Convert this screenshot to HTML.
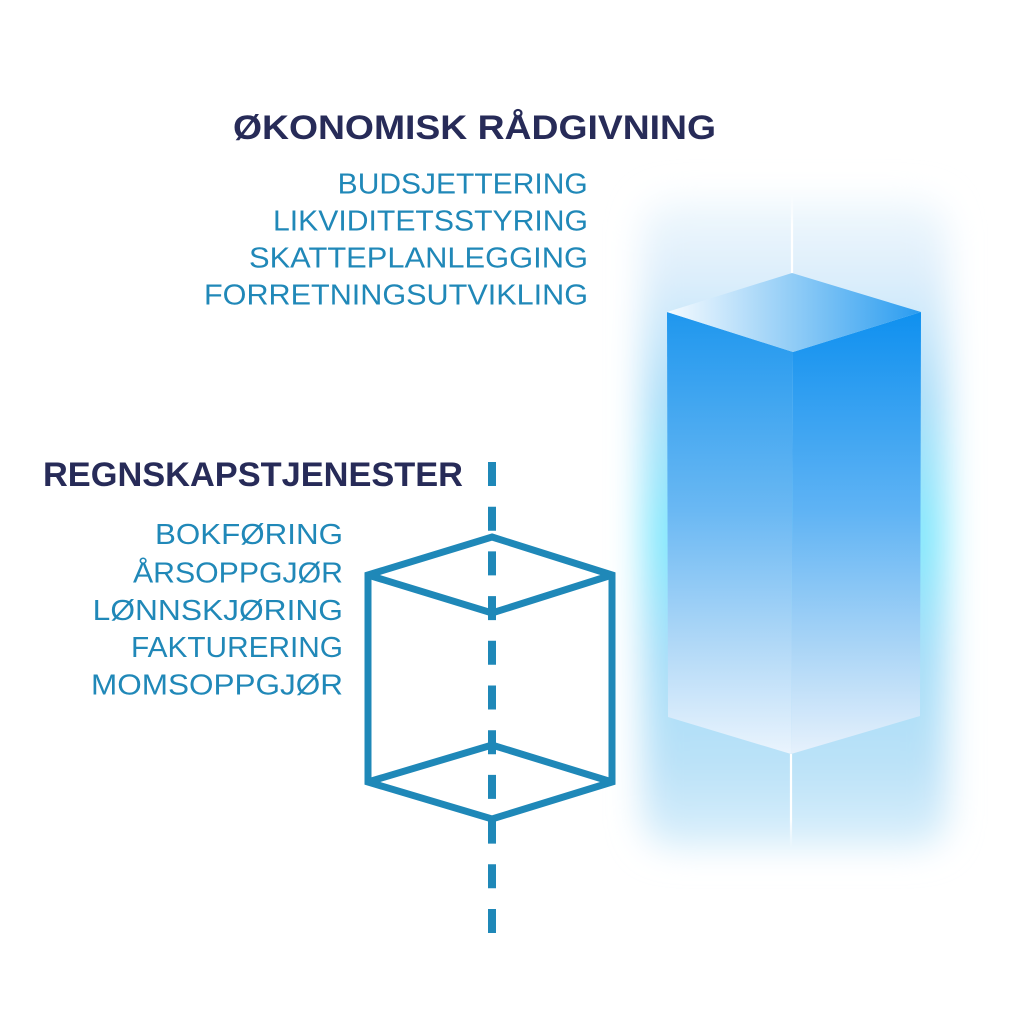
<!DOCTYPE html>
<html>
<head>
<meta charset="utf-8">
<style>
  html,body{margin:0;padding:0;background:#ffffff;}
  body{width:1011px;height:1013px;overflow:hidden;}
  svg{display:block;}
  .hd{font-family:"Liberation Sans",sans-serif;font-weight:bold;font-size:34px;fill:#272b58;}
  .it{font-family:"Liberation Sans",sans-serif;font-size:29px;fill:#2088b8;}
</style>
</head>
<body>
<svg width="1011" height="1013" viewBox="0 0 1011 1013" xmlns="http://www.w3.org/2000/svg">
  <defs>
    <filter id="blur" x="-30%" y="-30%" width="160%" height="160%">
      <feGaussianBlur stdDeviation="17"/>
    </filter>
    <linearGradient id="glowG" x1="0" y1="0" x2="0" y2="1">
      <stop offset="0" stop-color="#f0f8fd"/>
      <stop offset="0.12" stop-color="#ddeefb"/>
      <stop offset="0.3" stop-color="#addef8"/>
      <stop offset="0.52" stop-color="#84e8fd"/>
      <stop offset="0.7" stop-color="#a4ddf8"/>
      <stop offset="0.88" stop-color="#bce2f8"/>
      <stop offset="1" stop-color="#dcf0fb"/>
    </linearGradient>
    <linearGradient id="leftF" x1="0" y1="312" x2="0" y2="754" gradientUnits="userSpaceOnUse">
      <stop offset="0" stop-color="#1f97ee"/>
      <stop offset="0.45" stop-color="#6ab8f3"/>
      <stop offset="0.75" stop-color="#b0d8f7"/>
      <stop offset="1" stop-color="#eaf4fd"/>
    </linearGradient>
    <linearGradient id="rightF" x1="0" y1="312" x2="0" y2="754" gradientUnits="userSpaceOnUse">
      <stop offset="0" stop-color="#0f90ef"/>
      <stop offset="0.45" stop-color="#5fb3f4"/>
      <stop offset="0.75" stop-color="#a8d4f6"/>
      <stop offset="1" stop-color="#e6f1fc"/>
    </linearGradient>
    <linearGradient id="topF" x1="667" y1="0" x2="921" y2="0" gradientUnits="userSpaceOnUse">
      <stop offset="0" stop-color="#f6fbff"/>
      <stop offset="0.5" stop-color="#90ccf6"/>
      <stop offset="1" stop-color="#2a9cf0"/>
    </linearGradient>
    <linearGradient id="lineTop" x1="0" y1="193" x2="0" y2="273" gradientUnits="userSpaceOnUse">
      <stop offset="0" stop-color="#ffffff" stop-opacity="0"/>
      <stop offset="0.4" stop-color="#ffffff" stop-opacity="1"/>
      <stop offset="1" stop-color="#ffffff" stop-opacity="1"/>
    </linearGradient>
    <linearGradient id="lineBot" x1="0" y1="754" x2="0" y2="848" gradientUnits="userSpaceOnUse">
      <stop offset="0" stop-color="#ffffff" stop-opacity="1"/>
      <stop offset="0.7" stop-color="#ffffff" stop-opacity="1"/>
      <stop offset="1" stop-color="#ffffff" stop-opacity="0"/>
    </linearGradient>
  </defs>

  <!-- Glow -->
  <rect x="643" y="200" width="304" height="648" rx="30" fill="url(#glowG)" filter="url(#blur)"/>

  <!-- Light lines -->
  <line x1="792" y1="193" x2="792" y2="274" stroke="url(#lineTop)" stroke-width="2.2"/>
  <line x1="791" y1="754" x2="791" y2="848" stroke="url(#lineBot)" stroke-width="2.2"/>

  <!-- Solid box -->
  <polygon points="667,312 793,352 791,754 668,717" fill="url(#leftF)"/>
  <polygon points="793,352 921,312 920,716 791,754" fill="url(#rightF)"/>
  <polygon points="667,312 792,273 921,312 793,352" fill="url(#topF)"/>

  <!-- Wireframe cube -->
  <g fill="none" stroke="#1f88b8" stroke-width="7" stroke-linejoin="miter" stroke-linecap="butt">
    <path d="M492,537 L612,575 L612,782 L492,819 L368,782 L368,575 Z"/>
    <path d="M368,575 L492,613 L612,575"/>
    <path d="M368,782 L492,745 L612,782"/>
  </g>
  <line x1="492" y1="462" x2="492" y2="934" stroke="#1f88b8" stroke-width="8" stroke-dasharray="24 20.7"/>

  <!-- Text -->
  <text class="hd" x="233" y="139" textLength="483" lengthAdjust="spacingAndGlyphs">ØKONOMISK RÅDGIVNING</text>
  <text class="it" x="337.7" y="193.5" textLength="250" lengthAdjust="spacingAndGlyphs">BUDSJETTERING</text>
  <text class="it" x="273" y="230.7" textLength="315" lengthAdjust="spacingAndGlyphs">LIKVIDITETSSTYRING</text>
  <text class="it" x="249" y="267.5" textLength="339" lengthAdjust="spacingAndGlyphs">SKATTEPLANLEGGING</text>
  <text class="it" x="204" y="304.3" textLength="384" lengthAdjust="spacingAndGlyphs">FORRETNINGSUTVIKLING</text>

  <text class="hd" x="43" y="486" textLength="420" lengthAdjust="spacingAndGlyphs">REGNSKAPSTJENESTER</text>
  <text class="it" x="155" y="544" textLength="188" lengthAdjust="spacingAndGlyphs">BOKFØRING</text>
  <text class="it" x="133" y="582.5" textLength="210" lengthAdjust="spacingAndGlyphs">ÅRSOPPGJØR</text>
  <text class="it" x="92.7" y="620" textLength="250.3" lengthAdjust="spacingAndGlyphs">LØNNSKJØRING</text>
  <text class="it" x="131" y="657" textLength="212" lengthAdjust="spacingAndGlyphs">FAKTURERING</text>
  <text class="it" x="91" y="694.5" textLength="252" lengthAdjust="spacingAndGlyphs">MOMSOPPGJØR</text>
</svg>
</body>
</html>
